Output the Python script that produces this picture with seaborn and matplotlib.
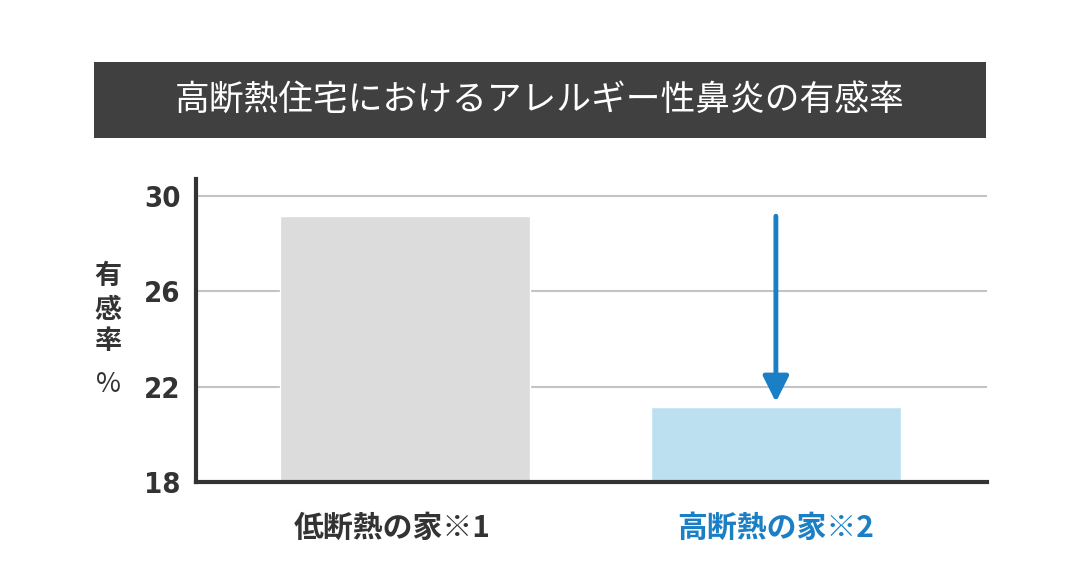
import matplotlib
matplotlib.use("Agg")
import matplotlib.pyplot as plt
import matplotlib.patches as mpatches
import matplotlib.transforms as mtransforms
import seaborn as sns
import pandas as pd

categories = ["低断熱の家※1", "高断熱の家※2"]
values = [29.15, 21.15]
yticks = [18, 22, 26, 30]
title = "高断熱住宅におけるアレルギー性鼻炎の有感率"
ylabel_chars = ["有", "感", "率"]
ylabel_unit = "%"

bar_colors = ["#dcdcdc", "#bde0f1"]
label_colors = ["#333333", "#1a7fc4"]
arrow_color = "#1a7fc4"

sns.set_theme(style="white")
plt.rcParams["font.family"] = ["Noto Sans CJK JP", "DejaVu Sans"]

df = pd.DataFrame({"cat": categories, "val": values})

fig = plt.figure(figsize=(10.8, 5.65), dpi=100)
ax = fig.add_axes([196 / 1080, 1 - 482 / 565, (987 - 196) / 1080, (482 - 179) / 565])

sns.barplot(data=df, x="cat", y="val", hue="cat", palette=bar_colors,
            width=0.674, ax=ax, legend=False, zorder=3, saturation=1)

ax.set_ylim(18, 30.71)
ax.set_xlim(-0.563, 1.569)
ax.set_yticks(yticks)
ax.yaxis.grid(True, color="#c4c4c4", linewidth=1.5, zorder=0)
ax.xaxis.grid(False)
ax.set_axisbelow(True)

for s in ["top", "right"]:
    ax.spines[s].set_visible(False)
for s in ["left", "bottom"]:
    ax.spines[s].set_color("#333333")
    ax.spines[s].set_linewidth(3)
    ax.spines[s].set_zorder(4)

ax.set_xlabel("")
ax.set_ylabel("")
ax.tick_params(axis="both", length=0)
ax.tick_params(axis="y", pad=11)
ax.tick_params(axis="x", pad=22)

for t in ax.get_yticklabels():
    t.set_fontfamily(["DejaVu Sans"])
    t.set_fontstretch("condensed")
    t.set_fontweight("bold")
    t.set_fontsize(21)
    t.set_color("#333333")

ax.set_xticks(range(len(categories)))
ax.set_xticklabels(categories)
xt = ax.get_xticklabels()
for t, c in zip(xt, label_colors):
    t.set_fontsize(21.5)
    t.set_fontweight("bold")
    t.set_color(c)
xt[0].set_transform(xt[0].get_transform() +
                    mtransforms.ScaledTranslation(-13 / 100, 0, fig.dpi_scale_trans))

# arrow from low-insulation level down toward high-insulation bar
ax.annotate("", xy=(1, values[1] + 0.2), xytext=(1, values[0]),
            arrowprops=dict(arrowstyle="-|>,head_length=1.3,head_width=0.65",
                            color=arrow_color, lw=3.5, shrinkA=0, shrinkB=0),
            zorder=5)

# title box
fig.patches.append(mpatches.Rectangle((94 / 1080, 1 - 138 / 565), (986 - 94) / 1080, 76 / 565,
                                      transform=fig.transFigure, facecolor="#404040",
                                      edgecolor="none", zorder=0))
fig.text(540 / 1080, 1 - 101 / 565, title, color="white", fontsize=25,
         ha="center", va="center")

# vertical y label
ys = [276, 310, 341]
for ch, y in zip(ylabel_chars, ys):
    fig.text(108 / 1080, 1 - y / 565, ch, fontsize=19.5, fontweight="bold",
             color="#333333", ha="center", va="center")
fig.text(108 / 1080, 1 - 385 / 565, ylabel_unit, fontsize=19.5, color="#333333",
         ha="center", va="center")

fig.savefig("out.png", dpi=100, facecolor="white")
